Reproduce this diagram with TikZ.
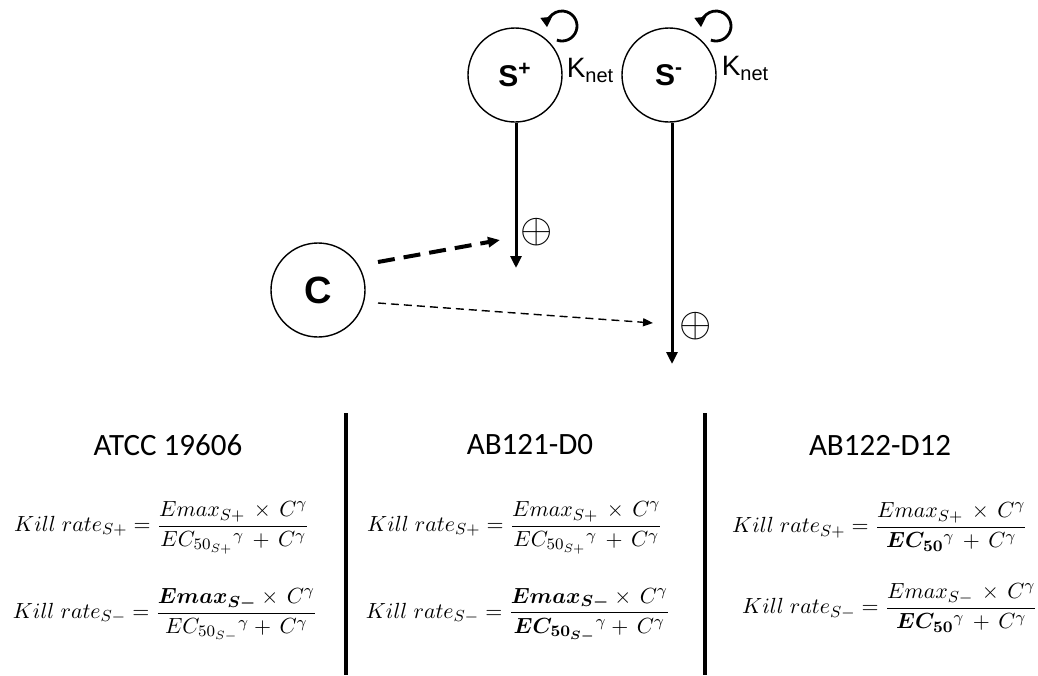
\documentclass[tikz,border=0pt]{standalone}
\usepackage{amsmath,bm}
\usepackage{fontspec}
\newfontfamily\arialf{Liberation Sans}
\newfontfamily\calib{Carlito}
\usetikzlibrary{arrows.meta}
\begin{document}
\begin{tikzpicture}[x=0.5pt,y=-0.5pt,
  state/.style={circle,draw,line width=0.7pt,minimum size=47pt,inner sep=0pt,font=\arialf\bfseries\fontsize{15}{17}\selectfont},
  bigstate/.style={state,font=\arialf\bfseries\fontsize{19}{21}\selectfont},
  flow/.style={line width=1.5pt,-{Triangle[length=6pt,width=5.5pt]}},
  effbig/.style={line width=2pt,dash pattern=on 8.5pt off 4.5pt,-{Triangle[length=6pt,width=5pt]}},
  effsmall/.style={line width=0.7pt,dash pattern=on 4pt off 2.5pt,-{Triangle[length=5pt,width=4pt]}},
  selfloop/.style={line width=1.4pt,-{Triangle[length=5pt,width=5.5pt]}},
  knet/.style={font=\arialf\fontsize{14}{16}\selectfont,inner sep=0pt},
  plus/.style={font=\fontsize{20}{22}\selectfont,inner sep=0pt},
  sep/.style={line width=2.3pt},
  title/.style={font=\calib\fontsize{15.5}{18}\selectfont,inner sep=0pt},
  eq/.style={font=\fontsize{11.4}{14}\selectfont,inner sep=0pt}]
\useasboundingbox (0,0) rectangle (1038,675);

% states
\node[state] (Sp) at (515,75) {S$^{\text{+}}$};
\node[state] (Sm) at (669,75) {S$^{\text{-}}$};
\node[bigstate] (C) at (318,290) {C};

% self loops
\coordinate (Lp) at (562,26);
\coordinate (Lm) at (716,26);
\draw[selfloop] ([shift={(-110:7.5pt)}]Lp) arc[start angle=-110,end angle=185,radius=7.5pt];
\draw[selfloop] ([shift={(-110:7.5pt)}]Lm) arc[start angle=-110,end angle=185,radius=7.5pt];
\node[knet] (Kp) at (590,70) {K{\fontsize{10}{12}\selectfont\raisebox{-0.25em}{net}}};
\node[knet] (Km) at (745,68) {K{\fontsize{10}{12}\selectfont\raisebox{-0.25em}{net}}};

% kill flows
\coordinate (Ep) at (516,268);
\coordinate (Em) at (672,364);
\draw[flow] (Sp.south -| Ep) -- (Ep);
\draw[flow] (Sm.south -| Em) -- (Em);
\node[plus] (Pp) at (537,232) {$\oplus$};
\node[plus] (Pm) at (696,326) {$\oplus$};

% drug effects
\coordinate (D1s) at (378,262);
\coordinate (D1e) at (500,240);
\coordinate (D2s) at (378,303);
\coordinate (D2e) at (653,323);
\draw[effbig] (D1s) -- (D1e);
\draw[effsmall] (D2s) -- (D2e);

% separators
\coordinate (V1t) at (346,413);
\coordinate (V1b) at (346,675);
\coordinate (V2t) at (705,413);
\coordinate (V2b) at (705,675);
\draw[sep] (V1t) -- (V1b);
\draw[sep] (V2t) -- (V2b);

% titles
\node[title] (T1) at (168,445) {ATCC 19606};
\node[title] (T2) at (530,445) {AB121-D0};
\node[title] (T3) at (880,445) {AB122-D12};

% equations
\node[eq] (E11) at (162,528) {$Kill\;rate_{S+} = \dfrac{Emax_{S+}\,\times\,C^{\gamma}}{EC_{50_{S+}}{}^{\gamma}\,+\,C^{\gamma}}$};
\node[eq] (E12) at (165,615) {$Kill\;rate_{S-} = \dfrac{\bm{Emax_{S-}}\times\,C^{\gamma}}{EC_{50_{S-}}{}^{\gamma}+\,C^{\gamma}}$};
\node[eq] (E21) at (515,528) {$Kill\;rate_{S+} = \dfrac{Emax_{S+}\,\times\,C^{\gamma}}{EC_{50_{S+}}{}^{\gamma}\,+\,C^{\gamma}}$};
\node[eq] (E22) at (518,615) {$Kill\;rate_{S-} = \dfrac{\bm{Emax_{S-}}\times\,C^{\gamma}}{\bm{EC_{50_{S-}}}{}^{\gamma}+\,C^{\gamma}}$};
\node[eq] (E31) at (880,527) {$Kill\;rate_{S+} = \dfrac{Emax_{S+}\,\times\,C^{\gamma}}{\bm{EC_{50}}{}^{\gamma}\,+\,C^{\gamma}}$};
\node[eq] (E32) at (890,608) {$Kill\;rate_{S-} = \dfrac{Emax_{S-}\,\times\,C^{\gamma}}{\bm{EC_{50}}{}^{\gamma}\,+\,C^{\gamma}}$};
\end{tikzpicture}
\end{document}
